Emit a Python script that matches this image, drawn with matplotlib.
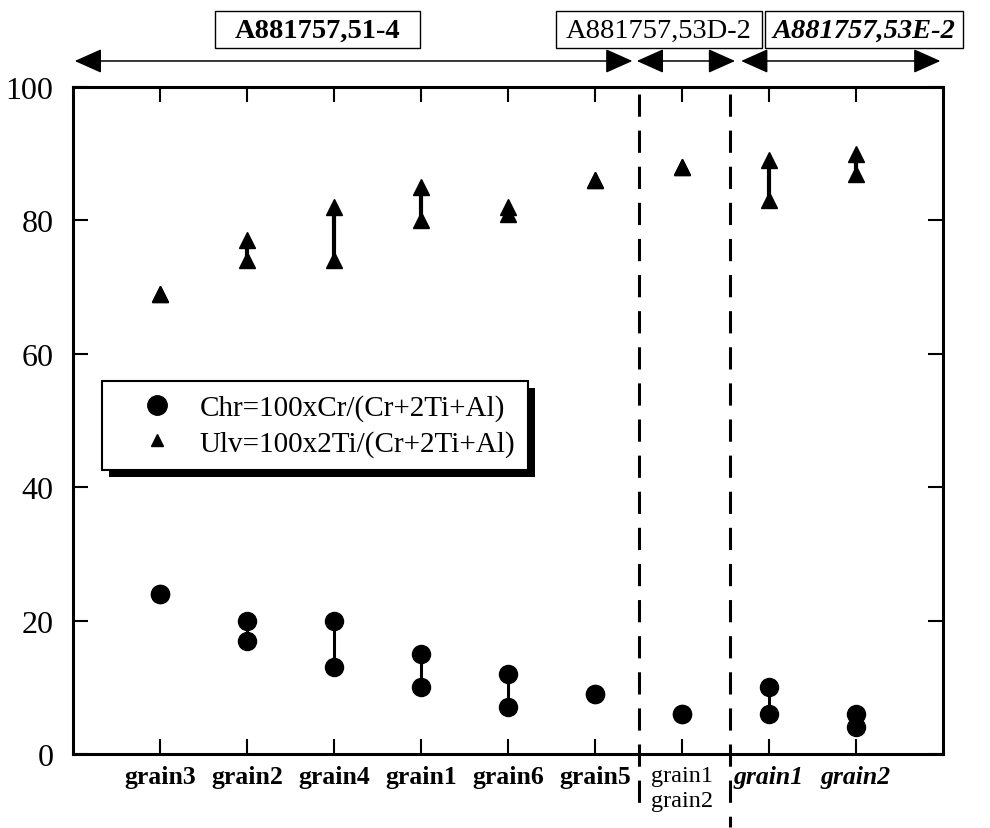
import matplotlib
matplotlib.use("Agg")
import matplotlib.pyplot as plt
from matplotlib.lines import Line2D
from matplotlib.patches import Rectangle
from matplotlib.transforms import IdentityTransform

plt.rcParams['font.family'] = ['Liberation Serif', 'DejaVu Serif']
plt.rcParams['lines.scale_dashes'] = False

# Grains, grouped by sample
grain_labels = ["grain3", "grain2", "grain4", "grain1", "grain6", "grain5",
                "grain1\ngrain2", "grain1", "grain2"]
label_styles = ["bold"] * 6 + ["regular"] + ["bolditalic"] * 2

# Chr = 100xCr/(Cr+2Ti+Al): core/rim range per grain
chr_low = [24, 17, 13, 10, 7, 9, 6, 6, 4]
chr_high = [24, 20, 20, 15, 12, 9, 6, 10, 6]

# Ulv = 100x2Ti/(Cr+2Ti+Al): core/rim range per grain
ulv_low = [69, 74, 74, 80, 81, 86, 88, 83, 87]
ulv_high = [69, 77, 82, 85, 82, 86, 88, 89, 90]

# Sample groups: name, style, first/last grain index
sample_names = ["A881757,51-4", "A881757,53D-2", "A881757,53E-2"]
sample_styles = ["bold", "regular", "bolditalic"]
sample_spans = [(0.02, 6.43), (6.48, 7.61), (7.68, 9.97)]
sample_boxes = [(215, 420), (556, 762), (765, 963)]  # box extents (pixels)
group_dividers = [6.5, 7.55]

W, H = 990, 829
fig = plt.figure(figsize=(W / 100, H / 100), dpi=100)
ax = fig.add_axes([73 / W, 1 - 755 / H, 870 / W, 667 / H])

x = list(range(1, len(grain_labels) + 1))

# range connectors
for xi, lo, hi in zip(x, chr_low, chr_high):
    if hi != lo:
        ax.plot([xi, xi], [lo, hi], color='black', lw=2.2, zorder=2)
for xi, lo, hi in zip(x, ulv_low, ulv_high):
    if hi != lo:
        ax.plot([xi, xi], [lo, hi], color='black', lw=3.0, zorder=2)

ax.plot(x, chr_low, 'o', color='black', ms=13, zorder=3)
ax.plot(x, chr_high, 'o', color='black', ms=13, zorder=3)
ax.plot(x, ulv_low, '^', color='black', ms=11.5, zorder=3)
ax.plot(x, ulv_high, '^', color='black', ms=11.5, zorder=3)

# group dividers
for xd, yend in zip(group_dividers, [-8.5, -11]):
    ax.plot([xd, xd], [99, yend], color='black', lw=2.2,
            linestyle=(0, (16, 10)), clip_on=False, zorder=1)

ax.set_xlim(0, 10)
ax.set_ylim(0, 100)
ax.set_yticks([0, 20, 40, 60, 80, 100])
ax.set_yticklabels(["0", "20", "40", "60", "80", "100"], fontsize=23)
ax.set_xticks(x)
ax.set_xticklabels(grain_labels, fontsize=18.5, linespacing=1.25)
for lbl, st in zip(ax.get_xticklabels(), label_styles):
    if st == "bold":
        lbl.set_fontweight("bold")
    elif st == "bolditalic":
        lbl.set_fontweight("bold")
        lbl.set_fontstyle("italic")
    else:
        lbl.set_fontsize(17.5)
ax.tick_params(direction='in', top=True, right=True, length=11, width=1.5)
ax.tick_params(axis='y', pad=14)
ax.tick_params(axis='x', pad=8)
for sp in ax.spines.values():
    sp.set_linewidth(2.2)

# sample spans across the top
xt = ax.get_xaxis_transform()
for (x0, x1) in sample_spans:
    ax.annotate("", xy=(x1, 1.039), xytext=(x0, 1.039), xycoords=xt,
                textcoords=xt, annotation_clip=False,
                arrowprops=dict(arrowstyle='<|-|>,head_length=0.85,head_width=0.38',
                                mutation_scale=20, lw=1.1, color='black',
                                shrinkA=0, shrinkB=0))

for name, st, (bx0, bx1) in zip(sample_names, sample_styles, sample_boxes):
    fig.patches.append(Rectangle((bx0 / W, 1 - 49 / H), (bx1 - bx0) / W, 37 / H,
                                 transform=fig.transFigure, facecolor='white',
                                 edgecolor='black', lw=1.0))
    kw = dict(fontsize=20.5, ha='center', va='center')
    if st == "bold":
        kw['fontweight'] = 'bold'
    elif st == "bolditalic":
        kw['fontweight'] = 'bold'
        kw['fontstyle'] = 'italic'
    fig.text((bx0 + bx1) / 2 / W, 1 - 31 / H, name, **kw)

# legend with a solid drop shadow
handles = [Line2D([], [], marker='o', color='black', ls='none', ms=14),
           Line2D([], [], marker='^', color='black', ls='none', ms=9)]
leg = ax.legend(handles, ["Chr=100xCr/(Cr+2Ti+Al)", "Ulv=100x2Ti/(Cr+2Ti+Al)"],
                loc='upper left', bbox_to_anchor=(29 / 870, (755 - 382) / 667),
                borderaxespad=0, fontsize=21, frameon=True, fancybox=False,
                borderpad=0.45, handlelength=2.9, handletextpad=0.0,
                labelspacing=0.3)
leg.get_frame().set_edgecolor('black')
leg.get_frame().set_linewidth(1.5)
leg.get_frame().set_alpha(1)
fig.canvas.draw()
bb = leg.get_window_extent()
ax.add_patch(Rectangle((bb.x0 + 7, bb.y0 - 7), bb.width, bb.height,
                       transform=IdentityTransform(), facecolor='black',
                       edgecolor='none', zorder=4.9, clip_on=False))

fig.savefig("out.png", dpi=100)
